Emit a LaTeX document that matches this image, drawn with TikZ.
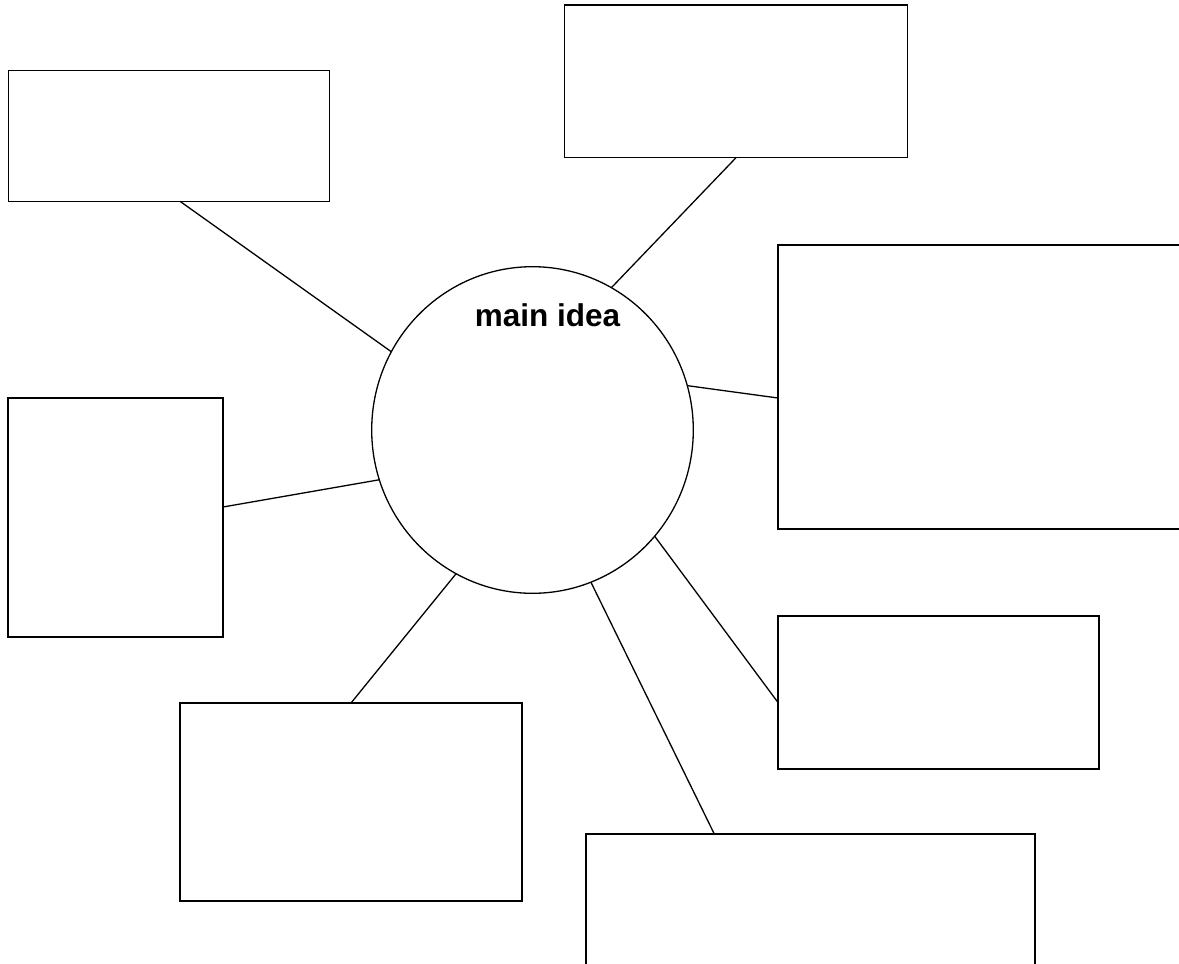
\documentclass[tikz,border=0pt]{standalone}
\usepackage{fontspec}
\setmainfont{Liberation Sans}
\usetikzlibrary{shapes.geometric,calc}
\begin{document}
\begin{tikzpicture}[x=1pt,y=-1pt,
  box/.style={draw=black,line width=1.3pt,rectangle,inner sep=0pt,outer sep=0pt},
  link/.style={draw=black,line width=1.3pt},
  bubble/.style={draw=black,line width=1.3pt,ellipse,inner sep=0pt,outer sep=0pt,minimum width=321.6pt,minimum height=326.6pt}]
\useasboundingbox (0,0) rectangle (1179,964);
\node[box,minimum width=321pt,minimum height=130.6pt] (tl) at (168.8,136) {};
\node[box,minimum width=343pt,minimum height=152.7pt] (tm) at (736,81.35) {};
\node[box,minimum width=407pt,minimum height=284pt] (rb) at (981.5,387) {};
\node[box,minimum width=215pt,minimum height=239pt] (l) at (115.5,517.5) {};
\node[box,minimum width=342pt,minimum height=198pt] (bl) at (351,802) {};
\node[box,minimum width=449pt,minimum height=166pt] (bm) at (810.5,917) {};
\node[box,minimum width=321pt,minimum height=153pt] (rs) at (938.5,692.5) {};
\node[bubble] (c) at (532.5,430) {};
\node[anchor=base,inner sep=0pt] (t) at (547.5,326.3) {\fontsize{31.5}{36}\selectfont\bfseries main idea};
\draw[link] ($(tl.south west)+(171.7,0)$) -- (c.151);
\draw[link] ($(tm.south west)+(171.5,0)$) -- (c.61.7);
\draw[link] ($(rb.north west)+(0,153)$) -- (c.16.6);
\draw[link] ($(l.north east)+(0,109)$) -- (c.198.8);
\draw[link] ($(bl.north west)+(171,0)$) -- (c.242.2);
\draw[link] ($(bm.north west)+(128.3,0)$) -- (c.291.6);
\draw[link] ($(rs.north west)+(0,86.5)$) -- (c.319.4);
\end{tikzpicture}
\end{document}
